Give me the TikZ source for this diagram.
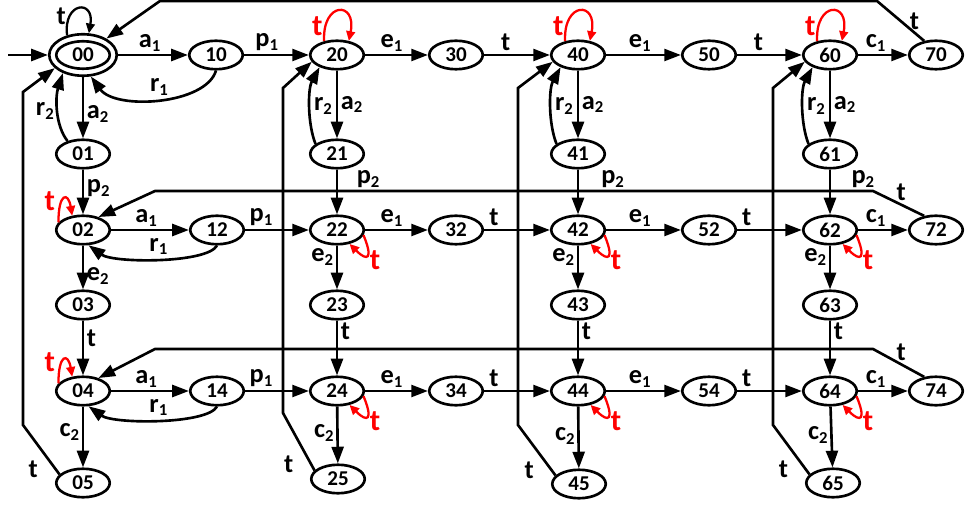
\documentclass[tikz,border=0pt]{standalone}
\usepackage{fontspec}
\setmainfont{Carlito}
\usetikzlibrary{arrows.meta,shapes.geometric}
\newcommand{\evt}[2]{#1\raisebox{-0.3ex}{\fontsize{9.5}{9.5}\selectfont #2}}
\tikzset{
  st/.style={draw,ellipse,line width=1.5pt,minimum width=1.07cm,minimum height=0.57cm,inner sep=0pt,font=\bfseries\fontsize{12}{12}\selectfont},
  tr/.style={line width=1.5pt,-{Triangle[length=9.5pt,width=6.8pt]}},
  lbl/.style={font=\bfseries\fontsize{15}{15}\selectfont,inner sep=1.5pt},
  lp/.style={red,line width=1.3pt,-{Triangle[length=5.5pt,width=5pt]}},
  lpt/.style={red,font=\bfseries\fontsize{17}{17}\selectfont,inner sep=1pt}
}
\begin{document}
\begin{tikzpicture}[x=0.02cm,y=-0.02cm]
  \useasboundingbox (0,0) rectangle (966,506);
  % states
  \node[st,minimum width=1.35cm,minimum height=0.83cm] (s00) at (83,55) {00};
  \draw[line width=1.5pt] (s00.center) ellipse [x radius=0.535cm,y radius=0.275cm];
  \foreach \nm/\x/\y in {10/216/55,20/337/55,30/456/55,40/578/55,50/709/55,60/830/55,70/936/55,
      01/83/154,21/337/154,41/578/154,61/830/154,
      02/83/230,12/217/230,22/337/230,32/456/230,42/578/230,52/709/230,62/830/230,72/936/230,
      03/83/305,23/337/305,43/578/305,63/830/305,
      04/83/391,14/217/391,24/337/391,34/456/391,44/578/391,54/709/391,64/830/391,74/936/391,
      05/83/483,25/338/479,45/579/484,65/833/483}
    \node[st] (s\nm) at (\x,\y) {\nm};
  \coordinate (init) at (8,55);
  \draw[tr] (init) -- (s00);
  % rows
  \foreach \r/\pp/\pt/\d in {0/0.35/0.33/34,2/0.25/0.15/18,4/0.25/0.15/18} {
    \draw[tr] (s0\r) -- node[lbl,above,pos=0.45] {\evt{a}{1}} (s1\r);
    \draw[tr] (s1\r) -- node[lbl,above,pos=\pp] {\evt{p}{1}} (s2\r);
    \draw[tr] (s2\r) -- node[lbl,above,pos=0.42] {\evt{e}{1}} (s3\r);
    \draw[tr] (s3\r) -- node[lbl,above,pos=\pt] {t} (s4\r);
    \draw[tr] (s4\r) -- node[lbl,above,pos=0.45] {\evt{e}{1}} (s5\r);
    \draw[tr] (s5\r) -- node[lbl,above,pos=\pt] {t} (s6\r);
    \draw[tr] (s6\r) -- node[lbl,above,pos=0.35] {\evt{c}{1}} (s7\r);
    \draw[tr] (s1\r.south) .. controls +(-10,\d) and +(25,\d) .. node[lbl,above] {\evt{r}{1}} (s0\r.-70);
  }
  % first column
  \draw[tr] (s00) -- node[lbl,right,pos=0.6] {\evt{a}{2}} (s01);
  \draw[tr] (s01.140) .. controls +(-12,-15) and +(-8,25) .. node[lbl,left] {\evt{r}{2}} (s00.222);
  \draw[tr] (s01) -- node[lbl,right,pos=0.41] {\evt{p}{2}} (s02);
  \draw[tr] (s02) -- node[lbl,right,pos=0.7] {\evt{e}{2}} (s03);
  \draw[tr] (s03) -- node[lbl,right,pos=0.33] {t} (s04);
  \draw[tr] (s04) -- node[lbl,left,pos=0.42] {\evt{c}{2}} (s05);
  % other columns
  \foreach \c/\sh in {2/9pt,4/11pt,6/10pt} {
    \draw[tr] (s\c0) -- node[lbl,right,pos=0.5] {\evt{a}{2}} (s\c1);
    \draw[tr] (s\c1.155) .. controls +(-8,-20) and +(-12,22) .. node[lbl,right] {\evt{r}{2}} (s\c0.215);
    \draw[tr] (s\c1) -- node[lbl,right=\sh,pos=0.22] {\evt{p}{2}} (s\c2);
    \draw[tr] (s\c2) -- node[lbl,left,pos=0.27] {\evt{e}{2}} (s\c3);
    \draw[tr] (s\c3) -- node[lbl,right,pos=0.2] {t} (s\c4);
    \draw[tr] (s\c4) -- node[lbl,left,pos=0.47] {\evt{c}{2}} (s\c5);
  }
  % self loops
  \draw[lp,black] (s00.129) .. controls +(-4,-34) and +(6,-34) .. node[lbl,left,pos=0.25] {t} (s00.75);
  \foreach \c in {2,4,6}
    \draw[lp] (s\c0.133) .. controls +(-2,-40) and +(8,-40) .. node[lpt,left,pos=0.15] {t} (s\c0.50);
  \foreach \r in {2,4}
    \draw[lp] (s0\r.163) .. controls +(0,-30) and +(-4,-24) .. node[lpt,left=2pt,pos=0.35] {t} (s0\r.127);
  \foreach \c in {2,4,6}
    \foreach \r in {2,4}
      \draw[lp] (s\c\r.-11) .. controls +(10,24) and +(18,18) .. node[lpt,right,pos=0.5,yshift=-3pt] {t} (s\c\r.-48);
  % returns
  \draw[tr] (s70.130) -- node[lbl,right=3pt,pos=0.5] {t} (877,1) -- (160,1) -- (s00);
  \foreach \r/\y in {2/191,4/349}
    \draw[tr] (s7\r.130) -- node[lbl,above,pos=0.45] {t} (873,\y) -- (155,\y) -- (s0\r.40);
  \draw[tr] (s05.160) -- node[lbl,left=8pt,pos=0.1] {t} (23,425) -- (23,92) -- (s00.205);
  \foreach \c/\x/\yb in {2/283/413,4/518/425,6/773/425}
    \draw[tr] (s\c5.160) -- node[lbl,left=8pt,pos=0.1] {t} (\x,\yb) -- (\x,88) -- (s\c0.195);
\end{tikzpicture}
\end{document}
